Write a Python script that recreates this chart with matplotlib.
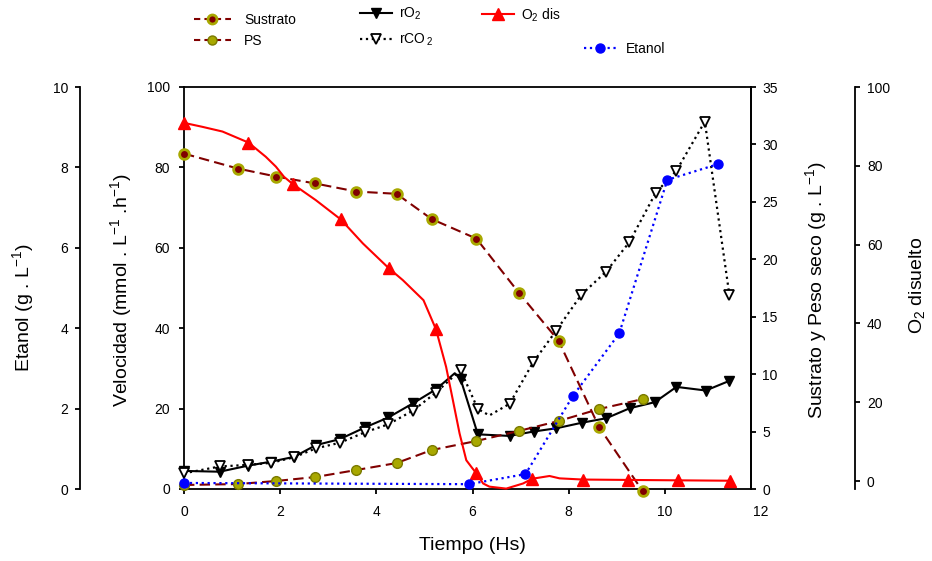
import matplotlib
matplotlib.use("Agg")
import matplotlib.pyplot as plt
import matplotlib.transforms as mtransforms
from matplotlib.lines import Line2D

plt.rcParams['font.family'] = ['Liberation Sans', 'DejaVu Sans']
plt.rcParams['mathtext.fontset'] = 'custom'
plt.rcParams['mathtext.rm'] = 'Liberation Sans'
plt.rcParams['mathtext.it'] = 'Liberation Sans:italic'
plt.rcParams['mathtext.default'] = 'regular'

# --- data ---
# Sustrato / PS (g/L, right axis)
t_sus = [0, 1.12, 1.92, 2.73, 3.58, 4.42, 5.15, 6.08, 6.96, 7.79, 8.63, 9.54]
sustrato = [29.2, 27.9, 27.2, 26.6, 25.9, 25.7, 23.5, 21.8, 17.1, 12.9, 5.4, -0.2]
ps = [0.35, 0.43, 0.70, 1.04, 1.65, 2.26, 3.39, 4.18, 5.05, 5.92, 6.96, 7.83]

# rO2 (mmol/L.h)
t_ro2 = [0, 0.74, 1.33, 1.81, 2.29, 2.74, 3.24, 3.76, 4.25, 4.76, 5.24, 5.63, 5.75,
         6.11, 6.77, 7.27, 7.74, 8.28, 8.78, 9.27, 9.79, 10.24, 10.85, 11.34]
ro2 = [4.5, 4.3, 5.8, 6.8, 8.0, 10.9, 12.4, 15.3, 17.8, 21.3, 24.8, 28.8, 27.4,
       13.6, 13.2, 14.3, 15.1, 16.5, 17.6, 20.1, 21.6, 25.4, 24.5, 26.9]
ro2_marks = [i for i in range(len(t_ro2)) if i != 11]

# rCO2 (mmol/L.h)
t_rco2 = [0, 0.74, 1.33, 1.81, 2.29, 2.74, 3.24, 3.76, 4.25, 4.76, 5.24, 5.75, 6.11,
          6.35, 6.77, 7.26, 7.74, 8.26, 8.78, 9.26, 9.81, 10.24, 10.83, 11.34]
rco2 = [3.9, 5.6, 6.0, 6.5, 7.9, 10.1, 11.5, 14.1, 16.1, 19.5, 24.0, 29.6, 19.9,
        18.3, 21.2, 31.5, 39.4, 48.3, 54.1, 61.4, 73.7, 79.2, 91.4, 48.3]
rco2_marks = [i for i in range(len(t_rco2)) if i != 13]

# O2 disuelto (%)
t_o2 = [0, 0.38, 0.80, 1.34, 1.70, 1.91, 2.08, 2.27, 2.74, 3.26, 3.72, 4.26, 4.55,
        4.98, 5.24, 5.45, 5.59, 5.73, 5.87, 6.00, 6.08, 6.22, 6.35, 6.70, 7.05,
        7.24, 7.60, 7.81, 8.29, 9.24, 10.28, 11.35]
o2 = [90.9, 89.9, 88.7, 85.9, 82.3, 79.8, 77.2, 75.3, 71.3, 66.4, 60.3, 54.0, 51.0,
      45.9, 38.5, 29.0, 20.6, 12.1, 5.3, 3.2, 2.0, -0.6, -1.4, -1.9, -0.6,
      0.6, 1.3, 0.7, 0.4, 0.3, 0.2, 0.1]
o2_marks = [0, 3, 7, 9, 11, 14, 20, 25, 28, 29, 30, 31]

# Etanol (g/L)
t_et = [0, 5.92, 7.10, 8.09, 9.05, 10.05, 11.10]
etanol = [0.15, 0.12, 0.37, 2.32, 3.87, 7.69, 8.08]

# colours
DARKRED = '#800000'
OLIVE = '#a8a800'
OLIVE_EDGE = '#7a7a00'
RED = '#ff0000'
BLUE = '#0000ff'

W, H = 932, 561
fig = plt.figure(figsize=(W / 100, H / 100), dpi=100)
ax = fig.add_axes([184 / W, 1 - 489 / H, 567 / W, 402 / H])
ax_s = ax.twinx()
ax_o = ax.twinx()
ax_e = ax.twinx()

SPINE_LW = 1.3
tick_kw = dict(direction='out', length=3.6, width=SPINE_LW, labelsize=10)

# main axes: Velocidad
ax.set_xlim(0, 11.79)
ax.set_ylim(0, 100)
ax.set_xticks([0, 2, 4, 6, 8, 10])
ax.set_yticks(range(0, 101, 20))
for sp in ax.spines.values():
    sp.set_linewidth(SPINE_LW)
ax.tick_params(axis='x', pad=8, **tick_kw)
ax.tick_params(axis='y', pad=6.5, **tick_kw)
ax.tick_params(axis='y', right=False)

ln_ro2, = ax.plot(t_ro2, ro2, '-', color='black', lw=1.5, marker='v', ms=6.5,
                  mfc='black', mec='black', markevery=ro2_marks, clip_on=False, zorder=3)
ln_rco2, = ax.plot(t_rco2, rco2, ':', color='black', lw=1.6, marker='v', ms=6.5,
                   mfc='white', mec='black', mew=1.3, markevery=rco2_marks,
                   clip_on=False, zorder=4)

# Sustrato y Peso seco
ax_s.set_ylim(0, 35)
ax_s.set_yticks(range(0, 36, 5))
for name, sp in ax_s.spines.items():
    sp.set_visible(name == 'right')
    sp.set_linewidth(SPINE_LW)
ax_s.tick_params(axis='y', pad=4.4, **tick_kw)
ax_s.plot(t_sus, sustrato, color=DARKRED, lw=1.5, dashes=(5, 2.5), marker='o', ms=7,
          mfc=DARKRED, mec=OLIVE, mew=2, clip_on=False, zorder=3)
ax_s.plot(t_sus, ps, color=DARKRED, lw=1.5, dashes=(5, 2.5), marker='o', ms=7,
          mfc=OLIVE, mec=OLIVE_EDGE, mew=1, clip_on=False, zorder=3)

# O2 disuelto
ax_o.set_ylim(-2, 100)
ax_o.set_yticks(range(0, 101, 20))
for name, sp in ax_o.spines.items():
    sp.set_visible(name == 'right')
    sp.set_linewidth(SPINE_LW)
ax_o.spines['right'].set_position(('axes', (855 - 184) / 567))
ax_o.tick_params(axis='y', pad=5, **tick_kw)
ax_o.plot(t_o2, o2, '-', color=RED, lw=1.5, marker='^', ms=8.5, mfc=RED, mec=RED,
          markevery=o2_marks, clip_on=False, zorder=3)

# Etanol
ax_e.set_ylim(0, 10)
ax_e.set_yticks(range(0, 11, 2))
for name, sp in ax_e.spines.items():
    sp.set_visible(name == 'left')
    sp.set_linewidth(SPINE_LW)
ax_e.spines['left'].set_position(('axes', (80 - 184) / 567))
ax_e.yaxis.set_ticks_position('left')
ax_e.yaxis.set_label_position('left')
ax_e.tick_params(axis='y', pad=5, **tick_kw)
ax_e.plot(t_et, etanol, ':', color=BLUE, lw=1.6, marker='o', ms=6.5, mfc=BLUE, mec=BLUE,
          clip_on=False, zorder=3)

# axis labels
ax.set_xlabel('Tiempo (Hs)', fontsize=14)
ax.xaxis.set_label_coords(0.508, -0.119)
ax.set_ylabel('Velocidad (mmol . L$^{-1}$ .h$^{-1}$)', fontsize=14)
ax.yaxis.set_label_coords(-0.088, 0.495)
ax_e.set_ylabel('Etanol (g . L$^{-1}$)', fontsize=14)
ax_e.yaxis.set_label_coords(-0.261, 0.45)
ax_s.set_ylabel('Sustrato y Peso seco (g . L$^{-1}$)', fontsize=14)
ax_s.yaxis.set_label_coords(1.092, 0.495)
ax_o.set_ylabel('O$_2$ disuelto', fontsize=14)
ax_o.yaxis.set_label_coords(1.275, 0.507)

# lone "12" under the right end of the time axis
trans12 = mtransforms.offset_copy(ax.get_xaxis_transform(), fig=fig, y=-(3.6 + 8), units='points')
ax.text(12, 0, '12', transform=trans12, ha='center', va='top', fontsize=10)

# legend keys (proxies, placed like the original)
def add_key(handle, label, x_px, y_px, hl, pad):
    leg = fig.legend(handles=[handle], labels=[label], loc='center left',
                     bbox_to_anchor=(x_px / W, 1 - y_px / H), frameon=False,
                     borderpad=0, borderaxespad=0, handlelength=hl,
                     handletextpad=pad, fontsize=10)
    return leg

k_sus = Line2D([], [], color=DARKRED, lw=1.5, dashes=(3, 2), marker='o', ms=6.5,
               mfc=DARKRED, mec=OLIVE, mew=2)
k_ps = Line2D([], [], color=DARKRED, lw=1.5, dashes=(3, 2), marker='o', ms=6.5,
              mfc=OLIVE, mec=OLIVE_EDGE, mew=1)
k_ro2 = Line2D([], [], color='black', lw=1.5, marker='v', ms=6.5, mfc='black', mec='black')
k_rco2 = Line2D([], [], color='black', lw=1.6, ls=':', marker='v', ms=6.5,
                mfc='white', mec='black', mew=1.3)
k_o2 = Line2D([], [], color=RED, lw=1.5, marker='^', ms=8.5, mfc=RED, mec=RED)
k_et = Line2D([], [], color=BLUE, lw=1.6, ls=':', marker='o', ms=6.5, mfc=BLUE, mec=BLUE)

add_key(k_sus, 'Sustrato', 194, 20, 2.65, 0.95)
add_key(k_ps, 'PS', 194, 41, 2.65, 0.95)
add_key(k_ro2, 'rO$_2$', 360, 14, 2.3, 0.5)
add_key(k_rco2, 'rCO$\\,_2$', 360, 40, 2.3, 0.5)
add_key(k_o2, 'O$_2$ dis', 482, 15, 2.3, 0.5)
add_key(k_et, 'Etanol', 584, 49, 2.35, 0.65)

fig.savefig('out.png', dpi=100)
